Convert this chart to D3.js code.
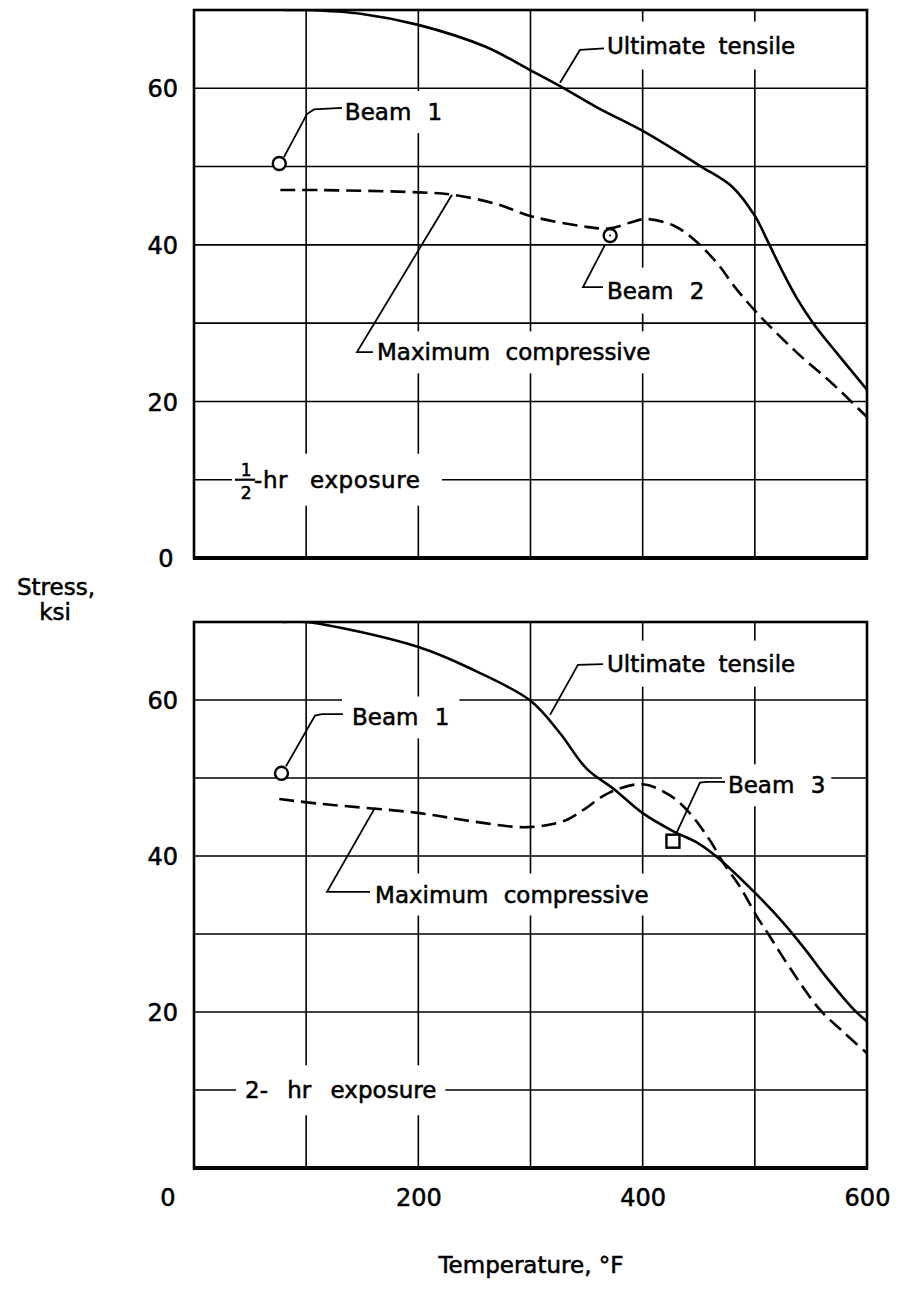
<!DOCTYPE html>
<html>
<head>
<meta charset="utf-8">
<script src="https://cdn.jsdelivr.net/npm/d3@7"></script>
<style>
  html, body { margin: 0; padding: 0; background: #fff; }
  svg text { font-family: "DejaVu Sans", sans-serif; fill: #000; stroke: #000; stroke-width: 0.55px; }
</style>
</head>
<body>
<svg id="chart" width="909" height="1289"></svg>
<script>
// ---------------- DATA ----------------
const xGridValues = [100, 200, 300, 400, 500];
const yGridValues = [10, 20, 30, 40, 50, 60];
const yTickLabels = [20, 40, 60];
const xTickLabels = [200, 400, 600];

// Half-hour exposure (top panel)
const halfTensileT = [80, 100, 150, 200, 260, 300, 326, 360, 402, 451, 480, 500, 511, 525, 537, 552, 573, 600];
const halfTensileS = [70, 70, 69.5, 68.1, 65.3, 62.3, 60.3, 57.5, 54.4, 50.1, 47.4, 43.7, 40.6, 36.5, 33.3, 30, 26.2, 21.5];
const halfCompT = [77, 112, 201, 231, 270, 302, 350, 371, 390, 403, 427, 448, 469, 480, 502, 537, 569, 600];
const halfCompS = [47.0, 47.0, 46.7, 46.4, 45.2, 43.6, 42.3, 42.1, 42.9, 43.3, 42.5, 40.4, 37.2, 35.0, 31.3, 26.3, 22.3, 18.0];
const halfBeamsT = [76, 371];
const halfBeamsS = [50.4, 41.2];

// Two-hour exposure (bottom panel)
const twoTensileT = [79, 100, 200, 250, 300, 326, 350, 375, 400, 427, 450, 466, 500, 525, 545, 563, 589, 600];
const twoTensileS = [70, 70, 66.8, 63.8, 59.9, 55.8, 51.2, 48.5, 45.5, 43.2, 41.6, 39.9, 35.3, 31.5, 28, 24.6, 20.2, 18.8];
const twoCompT = [76, 112, 201, 250, 297, 330, 347, 370, 400, 424, 442, 460, 472, 487, 502, 512, 532, 558, 580, 600];
const twoCompS = [47.3, 46.7, 45.5, 44.4, 43.7, 44.5, 45.9, 48.1, 49.2, 47.8, 45.5, 42.0, 39.1, 36.0, 32.2, 30.0, 25.5, 20.3, 17.3, 14.7];
const twoBeam1 = [78, 50.6];
const twoBeam3 = [427, 41.9];

// ---------------- LAYOUT ----------------
const svg = d3.select("#chart");
const FONT = 23;
const x = d3.scaleLinear().domain([0, 600]).range([194, 867]);
const panels = [
  { id: "p1", y: d3.scaleLinear().domain([0, 70]).range([558, 10]) },
  { id: "p2", y: d3.scaleLinear().domain([0, 70]).range([1168, 622]) }
];

function zip(a, b) { return a.map((v, i) => [v, b[i]]); }

const defs = svg.append("defs");

function drawPanel(p) {
  const g = svg.append("g");
  const y = p.y;
  defs.append("clipPath").attr("id", "clip-" + p.id).append("rect")
    .attr("x", x(0)).attr("y", y(70)).attr("width", x(600) - x(0)).attr("height", y(0) - y(70));
  g.selectAll(".vg").data(xGridValues).join("line")
    .attr("x1", d => x(d)).attr("x2", d => x(d))
    .attr("y1", y(0)).attr("y2", y(70))
    .attr("stroke", "#000").attr("stroke-width", 1.6);
  g.selectAll(".hg").data(yGridValues).join("line")
    .attr("x1", x(0)).attr("x2", x(600))
    .attr("y1", d => y(d)).attr("y2", d => y(d))
    .attr("stroke", "#000").attr("stroke-width", 1.6);
  g.append("rect")
    .attr("x", x(0)).attr("y", y(70))
    .attr("width", x(600) - x(0)).attr("height", y(0) - y(70))
    .attr("fill", "none").attr("stroke", "#000").attr("stroke-width", 2.6);
  g.append("line")
    .attr("x1", x(0) - 1).attr("x2", x(600) + 1)
    .attr("y1", y(0)).attr("y2", y(0))
    .attr("stroke", "#000").attr("stroke-width", 4);
  const ax = d3.axisLeft(y).tickValues(yTickLabels).tickSize(0).tickPadding(0).tickFormat(d3.format("d"));
  const axg = svg.append("g").attr("transform", `translate(${x(0) - 16},0)`).call(ax);
  axg.select(".domain").remove();
  axg.selectAll("text").style("font-size", "24px").attr("font-family", "DejaVu Sans").attr("fill", "#000").attr("dy", "0.36em");
  p.layer = svg.append("g");
  return g;
}

panels.forEach(drawPanel);

function label(p, tx, ty, str, opts = {}) {
  const grp = p.layer.append("g");
  const t = grp.append("text")
    .attr("x", x(tx)).attr("y", p.y(ty))
    .attr("dy", "0.36em")
    .style("font-size", (opts.size || FONT) + "px")
    .style("word-spacing", (opts.ws == null ? 6 : opts.ws) + "px")
    .attr("text-anchor", opts.anchor || "start")
    .text(str);
  const bb = t.node().getBBox();
  const px = opts.padX == null ? 5 : opts.padX, py = opts.padY == null ? 8 : opts.padY;
  grp.insert("rect", "text")
    .attr("x", bb.x - px).attr("y", bb.y - py)
    .attr("width", bb.width + 2 * px).attr("height", bb.height + 2 * py)
    .attr("fill", "#fff");
  return grp;
}

function leader(p, pts) {
  const line = d3.line().x(d => x(d[0])).y(d => p.y(d[1]));
  p.layer.append("path").attr("d", line(pts))
    .attr("fill", "none").attr("stroke", "#000").attr("stroke-width", 1.8);
}

function curve(p, pts, dashed) {
  const line = d3.line().x(d => x(d[0])).y(d => p.y(d[1])).curve(d3.curveCatmullRom.alpha(0.5));
  p.layer.append("path").attr("d", line(pts))
    .attr("clip-path", `url(#clip-${p.id})`)
    .attr("fill", "none").attr("stroke", "#000").attr("stroke-width", 2.6)
    .attr("stroke-dasharray", dashed ? "15,7" : null);
}

// ---------- TOP PANEL ----------
const P1 = panels[0];
label(P1, 368.2, 65.5, "Ultimate tensile", { padY: 11 });
label(P1, 134.5, 57.0, "Beam 1", { ws: 9 });
label(P1, 368.2, 34.2, "Beam 2", { ws: 9, padY: 10 });
label(P1, 163.1, 26.3, "Maximum compressive", { ws: 8 });
{
  const grp = P1.layer.append("g");
  grp.append("rect").attr("x", x(33.9)).attr("y", P1.y(10) - 26).attr("width", x(221.1) - x(33.9)).attr("height", 52).attr("fill", "#fff");
  grp.append("text").attr("x", x(46.4)).attr("y", P1.y(10) - 4).attr("text-anchor", "middle").style("font-size", "17px").text("1");
  grp.append("line").attr("x1", x(36.5)).attr("x2", x(54.5)).attr("y1", P1.y(10)).attr("y2", P1.y(10)).attr("stroke", "#000").attr("stroke-width", 2.2);
  grp.append("text").attr("x", x(46.4)).attr("y", P1.y(10) + 19).attr("text-anchor", "middle").style("font-size", "17px").text("2");
  grp.append("text").attr("x", x(53.5)).attr("y", P1.y(10)).attr("dy", "0.36em").style("font-size", FONT + "px").style("word-spacing", "14px").style("letter-spacing", "0.6px").text("-hr exposure");
}
curve(P1, zip(halfTensileT, halfTensileS), false);
curve(P1, zip(halfCompT, halfCompS), true);
leader(P1, [[326.3, 60.7], [344.1, 64.9], [365.5, 65.1]]);
leader(P1, [[80.2, 51.2], [100.7, 56.7], [107, 57.3], [132, 57.5]]);
leader(P1, [[366.4, 40.0], [346.8, 34.6], [364.6, 34.6]]);
leader(P1, [[230, 46.4], [145.3, 26.3], [159.6, 26.3]]);
P1.layer.selectAll(".beam").data(zip(halfBeamsT, halfBeamsS)).join("circle")
  .attr("cx", d => x(d[0])).attr("cy", d => P1.y(d[1])).attr("r", 6.5)
  .attr("fill", "#fff").attr("stroke", "#000").attr("stroke-width", 2.4);
P1.layer.append("circle").attr("cx", x(halfBeamsT[1])).attr("cy", P1.y(halfBeamsS[1])).attr("r", 1).attr("fill", "#000");

// ---------- BOTTOM PANEL ----------
const P2 = panels[1];
label(P2, 368.2, 64.7, "Ultimate tensile", { padY: 10 });
label(P2, 140.9, 57.8, "Beam 1", { ws: 9, padX: 10 });
label(P2, 476, 49.1, "Beam 3", { ws: 9, padX: 6 });
label(P2, 161.4, 35.1, "Maximum compressive", { ws: 8 });
label(P2, 45.5, 10, "2- hr exposure", { ws: 12, padX: 9, padY: 12 });
curve(P2, zip(twoTensileT, twoTensileS), false);
curve(P2, zip(twoCompT, twoCompS), true);
leader(P2, [[317.4, 58.1], [342.3, 64.5], [364.6, 64.6]]);
leader(P2, [[82, 51.5], [107.9, 58], [114, 58.2], [132.8, 58.2]]);
leader(P2, [[429.7, 42.8], [451.1, 49.4], [457.3, 49.5], [473.4, 49.5]]);
leader(P2, [[161.4, 46.2], [118.6, 35.4], [156.9, 35.4]]);
P2.layer.append("circle").attr("cx", x(twoBeam1[0])).attr("cy", P2.y(twoBeam1[1])).attr("r", 6.5)
  .attr("fill", "#fff").attr("stroke", "#000").attr("stroke-width", 2.4);
P2.layer.append("rect").attr("x", x(twoBeam3[0]) - 6.5).attr("y", P2.y(twoBeam3[1]) - 6.5)
  .attr("width", 13).attr("height", 13)
  .attr("fill", "#fff").attr("stroke", "#000").attr("stroke-width", 2.4);

// ---------- AXES TEXT ----------
svg.append("text").attr("x", 166).attr("y", panels[0].y(0)).attr("dy", "0.36em").attr("text-anchor", "middle").style("font-size", "24px").text("0");
svg.append("text").attr("x", 168).attr("y", 1197).attr("dy", "0.36em").attr("text-anchor", "middle").style("font-size", "24px").text("0");
const xAx = d3.axisBottom(x).tickValues(xTickLabels).tickSize(0).tickPadding(0).tickFormat(d3.format("d"));
const xg = svg.append("g").attr("transform", "translate(0,1185)").call(xAx);
xg.select(".domain").remove();
xg.selectAll("text").style("font-size", "24px").attr("font-family", "DejaVu Sans").attr("fill", "#000").attr("dy", "0.36em").attr("y", 12);

svg.append("text").attr("x", 531).attr("y", 1265).attr("dy", "0.36em").attr("text-anchor", "middle").style("font-size", FONT + "px").text("Temperature, °F");
svg.append("text").attr("x", 95).attr("y", 595).attr("text-anchor", "end").style("font-size", FONT + "px").text("Stress,");
svg.append("text").attr("x", 55).attr("y", 620).attr("text-anchor", "middle").style("font-size", FONT + "px").text("ksi");
</script>
</body>
</html>
